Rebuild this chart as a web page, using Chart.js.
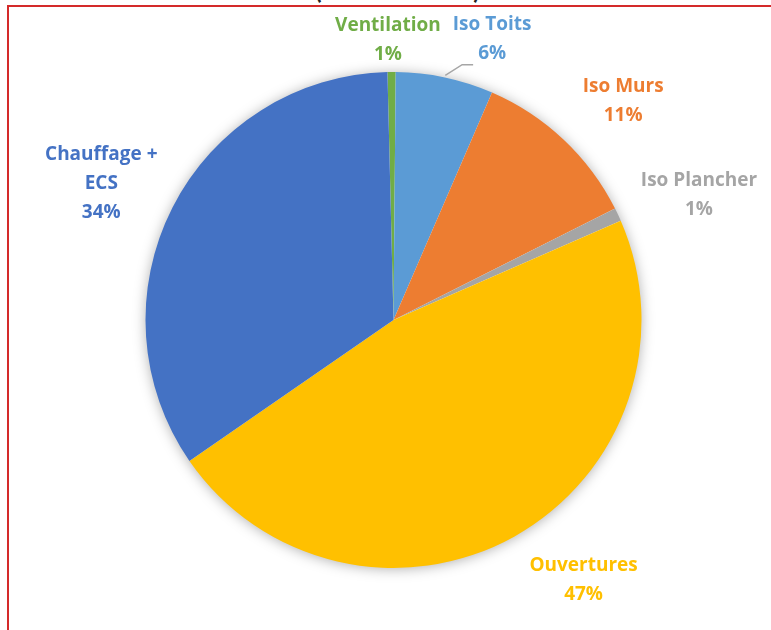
<!DOCTYPE html>
<html>
<head>
<meta charset="utf-8">
<script src="https://cdn.jsdelivr.net/npm/chart.js@4"></script>
<style>
    html, body { margin: 0; padding: 0; background: #fff; overflow: hidden; }
    #wrap { position: relative; width: 771px; height: 630px; }
    #frame {
        position: absolute; left: 7px; top: 5px; width: 800px; height: 700px;
        border: 2px solid #d42a2a; box-sizing: border-box;
    }
    #title {
        position: absolute; top: -25px; left: 0; width: 795px; text-align: center;
        font: bold 24px 'Lato', sans-serif; color: #222; white-space: pre;
    }
    canvas { position: absolute; left: 0; top: 0; }
</style>
</head>
<body>
<div id="wrap">
    <div id="title">(                          )</div>
    <div id="frame"></div>
    <canvas id="pie" width="771" height="630"></canvas>
</div>
<script>
// Données (ordre horaire depuis le haut)
const categories = ['Ventilation', 'Iso Toits', 'Iso Murs', 'Iso Plancher', 'Ouvertures', 'Chauffage + ECS'];
const values = [0.53, 6.36, 11.08, 0.86, 46.94, 34.23];
const pctLabels = ['1%', '6%', '11%', '1%', '47%', '34%'];
const labelLines = [['Ventilation'], ['Iso Toits'], ['Iso Murs'], ['Iso Plancher'], ['Ouvertures'], ['Chauffage +', 'ECS']];

const sliceColors = ['#70AD47', '#5B9BD5', '#ED7D31', '#A5A5A5', '#FFC000', '#4472C4'];

// placement des étiquettes : décalage angulaire (deg) et distance / rayon
const labelShift = [-0.7, 7.4, 3, 3, -7, -2];
const labelDist = [1.13, 1.20, 1.28, 1.33, 1.30, 1.30];

const shadowPlugin = {
    id: 'pieShadow',
    beforeDatasetsDraw(chart) {
        const arc = chart.getDatasetMeta(0).data[0];
        if (!arc) return;
        const ctx = chart.ctx;
        ctx.save();
        ctx.shadowColor = 'rgba(0,0,0,0.35)';
        ctx.shadowBlur = 14;
        ctx.shadowOffsetX = 0;
        ctx.shadowOffsetY = 1;
        ctx.fillStyle = '#fff';
        ctx.beginPath();
        ctx.arc(arc.x, arc.y, arc.outerRadius - 1, 0, Math.PI * 2);
        ctx.fill();
        ctx.restore();
    }
};

const labelPlugin = {
    id: 'outLabels',
    afterDatasetsDraw(chart) {
        const ctx = chart.ctx;
        const arcs = chart.getDatasetMeta(0).data;
        ctx.save();
        ctx.font = "bold 19px 'Open Sans', sans-serif";
        ctx.textAlign = 'center';
        ctx.textBaseline = 'middle';
        const lineH = 29;
        arcs.forEach((arc, i) => {
            const mid = (arc.startAngle + arc.endAngle) / 2;
            const a = mid + labelShift[i] * Math.PI / 180;
            const d = arc.outerRadius * labelDist[i];
            const cx = arc.x + Math.cos(a) * d;
            const cy = arc.y + Math.sin(a) * d;
            const lines = labelLines[i].concat([pctLabels[i]]);
            const top = cy - (lines.length - 1) * lineH / 2;
            ctx.fillStyle = sliceColors[i];
            lines.forEach((t, k) => ctx.fillText(t, cx, top + k * lineH));

            // trait de rappel pour Iso Toits
            if (i === 1) {
                const sx = arc.x + Math.cos(mid) * (arc.outerRadius + 2);
                const sy = arc.y + Math.sin(mid) * (arc.outerRadius + 2);
                ctx.strokeStyle = '#A6A6A6';
                ctx.lineWidth = 1.5;
                ctx.beginPath();
                ctx.moveTo(sx, sy);
                ctx.lineTo(cx - 30, cy + 25.5);
                ctx.lineTo(cx - 19, cy + 25.5);
                ctx.stroke();
            }
        });
        ctx.restore();
    }
};

new Chart(document.getElementById('pie').getContext('2d'), {
    type: 'pie',
    data: {
        labels: categories,
        datasets: [{
            data: values,
            backgroundColor: sliceColors,
            borderWidth: 0
        }]
    },
    options: {
        responsive: false,
        animation: false,
        rotation: -1.4,
        layout: { padding: { left: 100, right: 84, top: 72, bottom: 62 } },
        plugins: {
            legend: { display: false },
            tooltip: { enabled: false },
            title: { display: false }
        }
    },
    plugins: [shadowPlugin, labelPlugin]
});
</script>
</body>
</html>
